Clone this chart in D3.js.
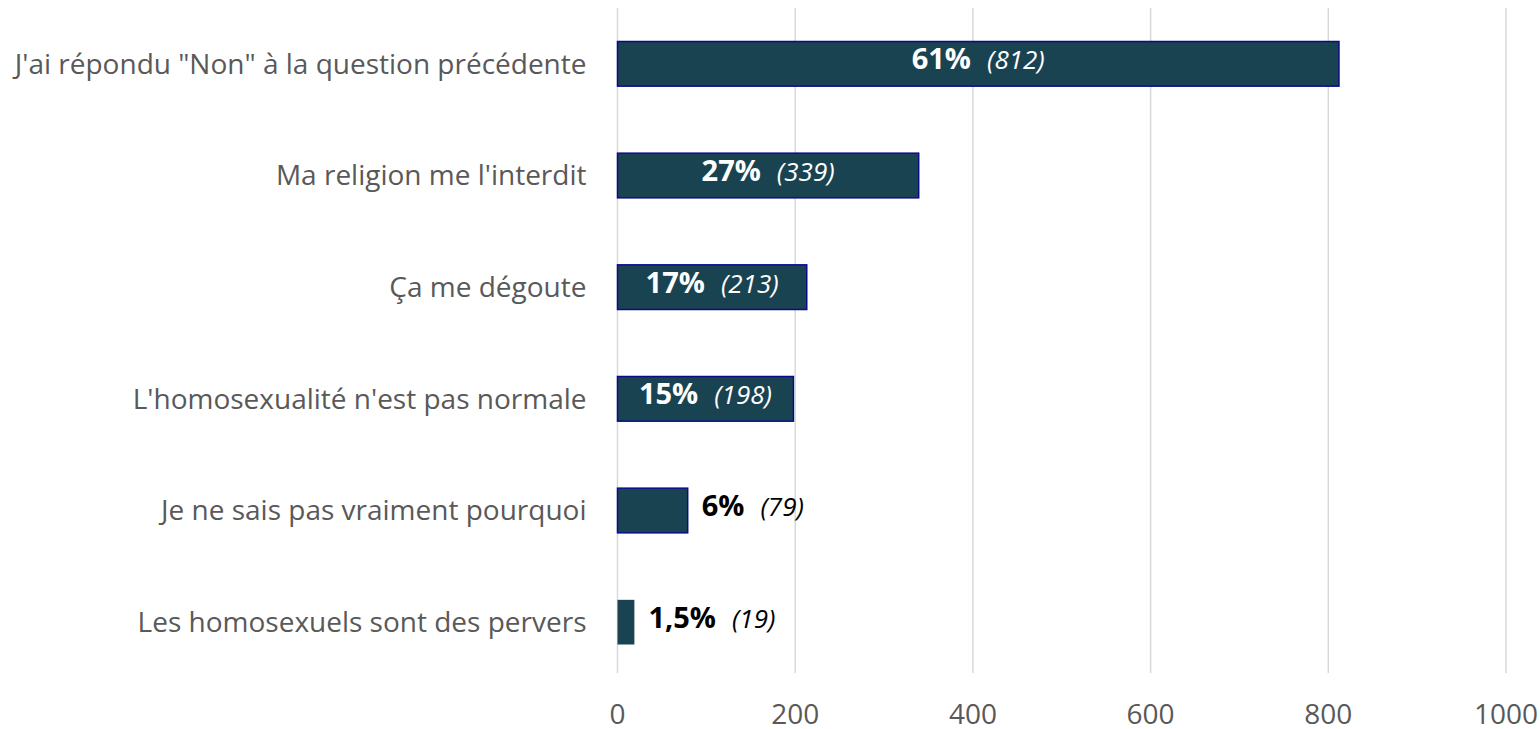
<!DOCTYPE html>
<html>
<head>
<meta charset="utf-8">
<script src="https://cdn.jsdelivr.net/npm/d3@7"></script>
<style>
  body { margin: 0; background: #fff; }
  svg { display: block; font-family: "Open Sans", sans-serif; }
</style>
</head>
<body>
<svg width="1540" height="729"></svg>
<script>
// data
let categories = [
    "J'ai répondu \"Non\" à la question précédente",
    "Ma religion me l'interdit",
    "Ça me dégoute",
    "L'homosexualité n'est pas normale",
    "Je ne sais pas vraiment pourquoi",
    "Les homosexuels sont des pervers"
];
let counts = [812, 339, 213, 198, 79, 19];
let percents = ["61%", "27%", "17%", "15%", "6%", "1,5%"];
let ticks = [0, 200, 400, 600, 800, 1000];

let margin = ({top: 8, right: 34, bottom: 51, left: 617.5});
let width = 1540, height = 729;

let x = d3.scaleLinear([0, 1000], [margin.left, width - margin.right]);
let y = d3.scaleBand(categories, [margin.top, height - margin.bottom]).paddingInner(0.6).paddingOuter(0.3);

let svg = d3.select("svg");

// gridlines
svg.append("g")
    .selectAll("line")
    .data(ticks)
    .join("line")
    .attr("x1", d => x(d))
    .attr("x2", d => x(d))
    .attr("y1", margin.top)
    .attr("y2", height - margin.bottom - 5)
    .attr("stroke", "#d9d9d9")
    .attr("stroke-width", 1.5);

// tick labels
svg.append("g")
    .attr("font-size", 28)
    .attr("fill", "#595959")
    .attr("text-anchor", "middle")
    .selectAll("text")
    .data(ticks)
    .join("text")
    .attr("x", d => x(d))
    .attr("y", 714)
    .attr("dy", "0.35em")
    .text(d => d);

// category labels
svg.append("g")
    .attr("font-size", 28)
    .attr("fill", "#595959")
    .attr("text-anchor", "end")
    .selectAll("text")
    .data(categories)
    .join("text")
    .attr("x", margin.left - 31)
    .attr("y", d => y(d) + y.bandwidth() / 2)
    .attr("dy", "0.35em")
    .text(d => d);

let rows = categories.map((c, i) => ({c, v: counts[i], p: percents[i]}));

// bars
svg.append("g")
    .selectAll("rect")
    .data(rows)
    .join("rect")
    .attr("x", x(0))
    .attr("y", d => y(d.c))
    .attr("width", d => x(d.v) - x(0))
    .attr("height", y.bandwidth())
    .attr("fill", "#1a4352")
    .attr("stroke", d => d.v > 50 ? "#0b0b8a" : "none")
    .attr("stroke-width", 1.5);

// value labels: inside for wide bars, outside for short ones
let lab = svg.append("g")
    .selectAll("text")
    .data(rows)
    .join("text")
    .attr("y", d => y(d.c) + y.bandwidth() / 2)
    .attr("dy", "0.35em")
    .attr("fill", d => d.v > 150 ? "#fff" : "#000")
    .attr("text-anchor", d => d.v > 150 ? "middle" : "start")
    .attr("x", d => d.v > 150 ? (x(0) + x(d.v)) / 2 : x(d.v) + 14);

lab.append("tspan")
    .attr("font-size", 29)
    .attr("font-weight", "bold")
    .text(d => d.p);
lab.append("tspan")
    .attr("font-size", 26)
    .attr("font-style", "italic")
    .attr("dx", 16)
    .text(d => "(" + d.v + ")");
</script>
</body>
</html>
